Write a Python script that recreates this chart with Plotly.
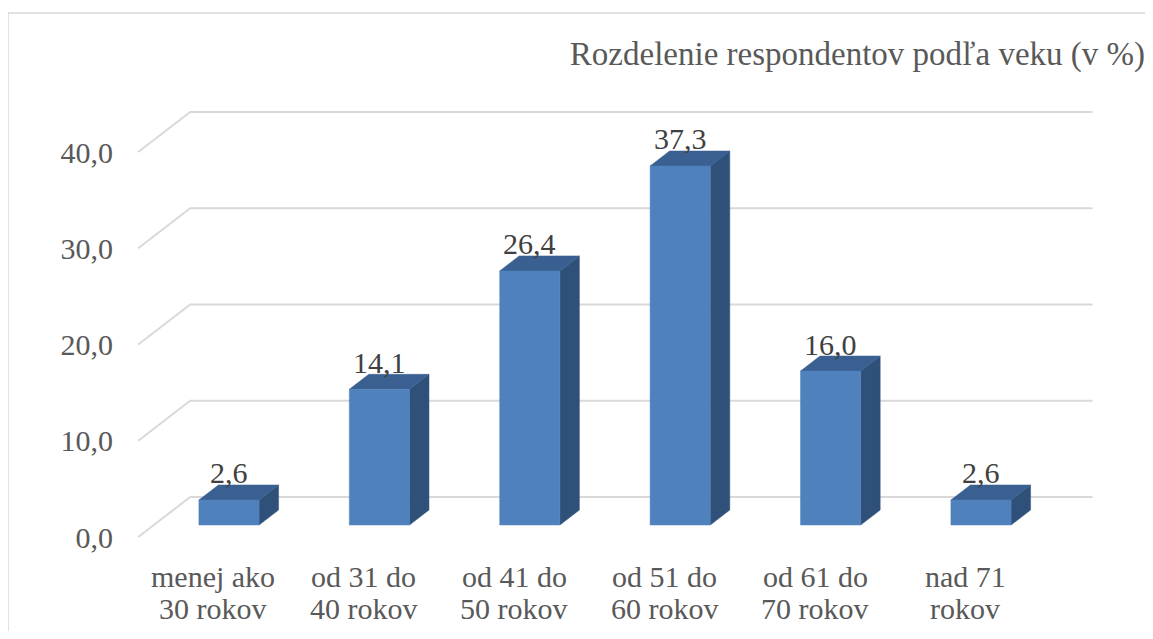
import plotly.graph_objects as go

# ---------------- data ----------------
categories = ["menej ako<br>30 rokov", "od 31 do<br>40 rokov", "od 41 do<br>50 rokov",
              "od 51 do<br>60 rokov", "od 61 do<br>70 rokov", "nad 71<br>rokov"]
values = [2.6, 14.1, 26.4, 37.3, 16.0, 2.6]
y_ticks = [0, 10, 20, 30, 40]
title_text = "Rozdelenie respondentov podľa veku (v %)"

# ---------------- style / geometry ----------------
# the page body has an 8px margin, so the figure is sized to fit inside the window
W, H = 1137, 623
OFF = 8
FONT = "Liberation Serif"
TXT = "#595959"
LBL = "#404040"
FRONT = "#4F81BD"
TOP = "#3A6091"
SIDE = "#2F5079"
GRID = "#D9D9D9"

PX_PER_CAT = 150.4
PX_PER_VAL = 9.625
X0_PX = 213.4 - OFF   # pixel of category 0 at front plane
Y0_PX = 537.0 - OFF   # pixel of value 0 at front plane
ML = 110

DEPTH_X = 52 / PX_PER_CAT      # full wall depth in category units
DEPTH_Y = 40 / PX_PER_VAL      # full wall depth in value units
BAR_D0, BAR_D1 = 0.30, 0.675
BAR_HALF = 0.2
WALL_L, WALL_R = -0.5, len(categories) - 0.5


def proj(x, v, d):
    return x + d * DEPTH_X, v + d * DEPTH_Y


fig = go.Figure()

# gridlines (side wall + back wall)
gx, gy = [], []
for t in y_ticks:
    for (x, d) in [(WALL_L, 0), (WALL_L, 1), (WALL_R, 1)]:
        px, py = proj(x, t, d)
        gx.append(px)
        gy.append(py)
    gx.append(None)
    gy.append(None)
fig.add_trace(go.Scatter(x=gx, y=gy, mode="lines", line=dict(color=GRID, width=2),
                         hoverinfo="skip", showlegend=False))


def face(pts, color):
    xs, ys = [], []
    for p in pts + [pts[0]]:
        px, py = proj(*p)
        xs.append(px)
        ys.append(py)
    fig.add_trace(go.Scatter(x=xs, y=ys, mode="lines", fill="toself", fillcolor=color,
                             line=dict(color=color, width=0.5), hoverinfo="skip",
                             showlegend=False))


for i, v in enumerate(values):
    l, r = i - BAR_HALF, i + BAR_HALF
    face([(r, 0, BAR_D0), (r, v, BAR_D0), (r, v, BAR_D1), (r, 0, BAR_D1)], SIDE)
    face([(l, v, BAR_D0), (r, v, BAR_D0), (r, v, BAR_D1), (l, v, BAR_D1)], TOP)
    face([(l, 0, BAR_D0), (r, 0, BAR_D0), (r, v, BAR_D0), (l, v, BAR_D0)], FRONT)
    # data label
    lx, ly = proj(i, v, BAR_D0)
    fig.add_annotation(x=lx, y=ly, xref="x", yref="y", text=f"{v:.1f}".replace(".", ","),
                       showarrow=False, yshift=27, yanchor="middle",
                       font=dict(family=FONT, size=30, color=LBL))

# category labels (two lines each)
for i, c in enumerate(categories):
    for k, line in enumerate(c.split("<br>")):
        fig.add_annotation(x=i, y=0, xref="x", yref="y", text=line, showarrow=False,
                           yanchor="middle", yshift=-39 - 32 * k,
                           font=dict(family=FONT, size=30, color=TXT))

x_lo = (ML - X0_PX) / PX_PER_CAT
x_hi = (W - X0_PX) / PX_PER_CAT
y_hi = Y0_PX / PX_PER_VAL
y_lo = (Y0_PX - H) / PX_PER_VAL

# chart border (extends beyond the visible window)
bx = (0 - ML) / (W - ML)
by = 1 - (13 - OFF) / H
fig.add_shape(type="line", xref="paper", yref="paper",
              x0=bx, x1=1.05, y0=by, y1=by, line=dict(color=GRID, width=1.5))
fig.add_shape(type="line", xref="paper", yref="paper",
              x0=bx, x1=bx, y0=-0.05, y1=by, line=dict(color=GRID, width=1.5))

fig.update_layout(
    width=W, height=H,
    margin=dict(l=ML, r=0, t=0, b=0),
    paper_bgcolor="white", plot_bgcolor="white",
    separators=",.",
    showlegend=False,
    title=dict(text=title_text, xref="container", yref="container",
               x=1.0, xanchor="right", y=1 - (53 - OFF) / H, yanchor="middle",
               pad=dict(r=0, l=0, t=0, b=0),
               font=dict(family=FONT, size=33, color=TXT)),
    xaxis=dict(range=[x_lo, x_hi], visible=False, fixedrange=True),
    yaxis=dict(range=[y_lo, y_hi], tickvals=y_ticks, tickformat=".1f",
               showgrid=False, zeroline=False, showline=False, ticks="",
               ticklabelstandoff=4,
               tickfont=dict(family=FONT, size=30, color=TXT), fixedrange=True),
)

fig.write_html("out.html")
